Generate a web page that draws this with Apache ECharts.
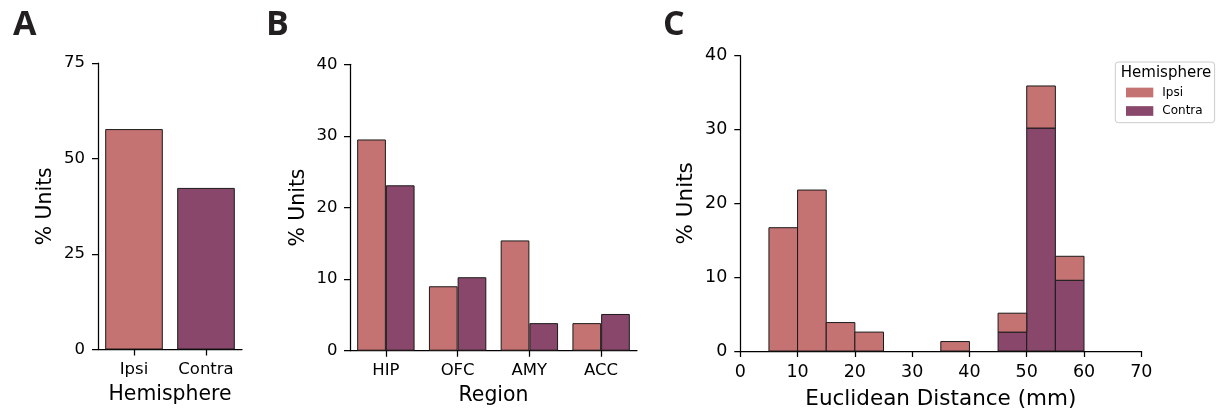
<!DOCTYPE html>
<html>
<head>
<meta charset="utf-8">
<script src="https://cdn.jsdelivr.net/npm/echarts@6/dist/echarts.min.js"></script>
<style>
html,body{margin:0;padding:0;background:#fff;}
#chart{width:1217px;height:415px;}
</style>
</head>
<body>
<div id="chart"></div>
<script>
// ---- Data ----
const hemiCategories = ['Ipsi', 'Contra'];
const hemiValues = [57.7, 42.3];

const regionCategories = ['HIP', 'OFC', 'AMY', 'ACC'];
const regionIpsi = [29.5, 9.0, 15.4, 3.85];
const regionContra = [23.1, 10.26, 3.85, 5.13];

const distBinStarts = [5, 10, 15, 20, 25, 30, 35, 40, 45, 50, 55, 60];
const distBinWidth = 5;
const distIpsi = [16.7, 21.8, 3.85, 2.56, 0, 0, 1.28, 0, 2.56, 5.7, 3.25, 0];
const distContra = [0, 0, 0, 0, 0, 0, 0, 0, 2.56, 30.2, 9.58, 0];

const yTicksA = [0, 25, 50, 75];
const yTicksB = [0, 10, 20, 30, 40];
const yTicksC = [0, 10, 20, 30, 40];
const xTicksC = [0, 10, 20, 30, 40, 50, 60, 70];

// ---- Styles ----
const IPSI = '#c57372';
const CONTRA = '#89486b';
const EDGE = '#1a1a1a';
const FONT = 'DejaVu Sans';

function axisLine() { return { show: true, lineStyle: { color: '#000', width: 1.25 } }; }
function axisTick() { return { show: true, length: 6, lineStyle: { color: '#000', width: 1.25 } }; }
function label(fs, m) { return { color: '#000', fontFamily: FONT, fontSize: fs, margin: m, interval: 0, hideOverlap: false }; }
function nameStyle(fs) { return { color: '#000', fontFamily: FONT, fontSize: fs }; }

// histogram rect data: [x0, x1, y0, y1]
const contraRects = [];
const ipsiRects = [];
distBinStarts.forEach((s, i) => {
  const c = distContra[i];
  const t = c + distIpsi[i];
  if (c > 0) contraRects.push([s, s + distBinWidth, 0, c]);
  if (distIpsi[i] > 0) ipsiRects.push([s, s + distBinWidth, c, t]);
});

function renderRect(params, api) {
  const p0 = api.coord([api.value(0), api.value(3)]);
  const p1 = api.coord([api.value(1), api.value(2)]);
  return {
    type: 'rect',
    shape: { x: p0[0], y: p0[1], width: p1[0] - p0[0], height: p1[1] - p0[1] },
    style: { fill: api.visual('color'), stroke: EDGE, lineWidth: 1 }
  };
}

const chart = echarts.init(document.getElementById('chart'), null, { renderer: 'canvas' });

const option = {
  backgroundColor: '#fff',
  animation: false,
  textStyle: { fontFamily: FONT },
  grid: [
    { left: 98, top: 63, width: 144, height: 286.5 },
    { left: 350, top: 64.3, width: 287, height: 286.4 },
    { left: 740.3, top: 55.7, width: 401, height: 299.3 }
  ],
  xAxis: [
    { type: 'category', gridIndex: 0, data: hemiCategories,
      axisLine: axisLine(), axisTick: Object.assign(axisTick(), { alignWithLabel: true, interval: 0 }),
      axisLabel: label(16.5, 12), name: 'Hemisphere', nameLocation: 'middle', nameGap: 35.5, nameTextStyle: nameStyle(20.4) },
    { type: 'category', gridIndex: 1, data: regionCategories,
      axisLine: axisLine(), axisTick: Object.assign(axisTick(), { alignWithLabel: true, interval: 0 }),
      axisLabel: label(16.5, 12), name: 'Region', nameLocation: 'middle', nameGap: 35.5, nameTextStyle: nameStyle(20.4) },
    { type: 'value', gridIndex: 2, min: xTicksC[0], max: xTicksC[xTicksC.length - 1], interval: 10,
      axisLine: axisLine(), axisTick: axisTick(), splitLine: { show: false },
      axisLabel: label(17.5, 12), name: 'Euclidean Distance (mm)', nameLocation: 'middle', nameGap: 37, nameTextStyle: nameStyle(21.5) }
  ],
  yAxis: [
    { type: 'value', gridIndex: 0, min: yTicksA[0], max: yTicksA[yTicksA.length - 1], interval: 25,
      axisLine: axisLine(), axisTick: axisTick(), splitLine: { show: false },
      axisLabel: label(16.5, 13), name: '% Units', nameLocation: 'middle', nameGap: 42.5, nameTextStyle: nameStyle(20.4) },
    { type: 'value', gridIndex: 1, min: yTicksB[0], max: yTicksB[yTicksB.length - 1], interval: 10,
      axisLine: axisLine(), axisTick: axisTick(), splitLine: { show: false },
      axisLabel: label(16.5, 12.5), name: '% Units', nameLocation: 'middle', nameGap: 41.5, nameTextStyle: nameStyle(20.4) },
    { type: 'value', gridIndex: 2, min: yTicksC[0], max: yTicksC[yTicksC.length - 1], interval: 10,
      axisLine: axisLine(), axisTick: axisTick(), splitLine: { show: false },
      axisLabel: label(17.5, 13), name: '% Units', nameLocation: 'middle', nameGap: 43, nameTextStyle: nameStyle(21.5) }
  ],
  legend: {
    data: ['Ipsi', 'Contra'],
    orient: 'vertical',
    left: 1115.3, top: 62,
    padding: [23.5, 12, 4.7, 10.7],
    itemGap: 4.5,
    itemWidth: 27.3, itemHeight: 9.7,
    icon: 'rect',
    itemStyle: { borderWidth: 0 },
    borderColor: '#cccccc', borderWidth: 1, borderRadius: 3,
    backgroundColor: 'rgba(255,255,255,0.8)',
    textStyle: { color: '#000', fontFamily: FONT, fontSize: 12, lineHeight: 14, padding: [0, 0, 0, 4] },
    selectedMode: false
  },
  series: [
    { type: 'bar', name: 'Hemi', xAxisIndex: 0, yAxisIndex: 0, barWidth: '80%',
      data: hemiValues.map((v, i) => ({ value: v, itemStyle: { color: i === 0 ? IPSI : CONTRA } })),
      itemStyle: { borderColor: EDGE, borderWidth: 1 } },
    { type: 'bar', name: 'Ipsi', xAxisIndex: 1, yAxisIndex: 1, data: regionIpsi,
      barGap: '0%', barCategoryGap: '20%',
      itemStyle: { color: IPSI, borderColor: EDGE, borderWidth: 1 } },
    { type: 'bar', name: 'Contra', xAxisIndex: 1, yAxisIndex: 1, data: regionContra,
      barGap: '0%', barCategoryGap: '20%',
      itemStyle: { color: CONTRA, borderColor: EDGE, borderWidth: 1 } },
    { type: 'custom', name: 'Contra', xAxisIndex: 2, yAxisIndex: 2, data: contraRects,
      encode: { x: [0, 1], y: [2, 3] }, renderItem: renderRect,
      itemStyle: { color: CONTRA } },
    { type: 'custom', name: 'Ipsi', xAxisIndex: 2, yAxisIndex: 2, data: ipsiRects,
      encode: { x: [0, 1], y: [2, 3] }, renderItem: renderRect,
      itemStyle: { color: IPSI } }
  ],
  graphic: [
    { type: 'text', left: 13, top: 8, style: { text: 'A', font: 'bold 34px "Open Sans"', fill: '#231f20' } },
    { type: 'text', left: 266, top: 8, style: { text: 'B', font: 'bold 34px "Open Sans"', fill: '#231f20' } },
    { type: 'text', left: 663, top: 8, style: { text: 'C', font: 'bold 34px "Open Sans"', fill: '#231f20' } },
    { type: 'text', x: 1166, y: 73.5, z: 100, style: { text: 'Hemisphere', font: '15px "DejaVu Sans"', fill: '#000', textAlign: 'center', textVerticalAlign: 'middle' } }
  ]
};
chart.setOption(option);
</script>
</body>
</html>
